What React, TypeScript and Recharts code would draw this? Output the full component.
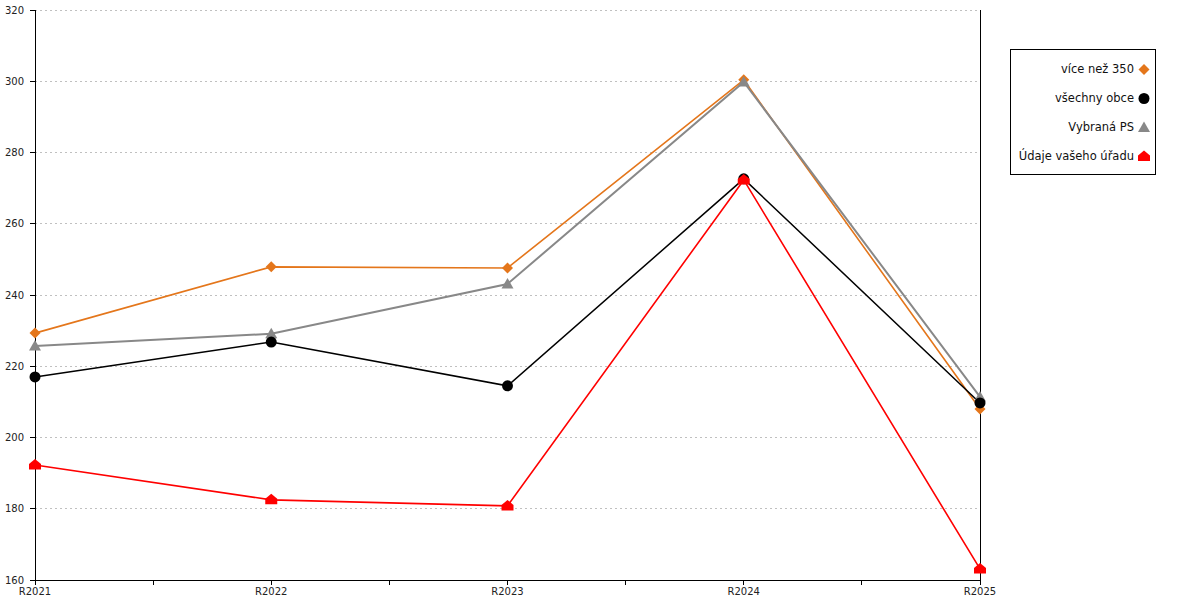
import React from 'react';
import { LineChart, Line, XAxis, YAxis, CartesianGrid, ReferenceLine } from 'recharts';

const categories = ['R2021', 'R2022', 'R2023', 'R2024', 'R2025'];
const viceNez350 = [229.3, 247.9, 247.6, 300.4, 208.0];
const vsechnyObce = [217.0, 226.8, 214.5, 272.6, 209.7];
const vybranaPS = [225.7, 229.1, 243.1, 299.8, 211.4];
const udajeUradu = [192.3, 182.5, 180.8, 272.3, 163.1];
const yTicks = [160, 180, 200, 220, 240, 260, 280, 300, 320];
const xTicks = [0, 0.5, 1, 1.5, 2, 2.5, 3, 3.5, 4];

type Shape = 'diamond' | 'circle' | 'triangle' | 'house';

const series: { key: string; name: string; color: string; shape: Shape; width: number }[] = [
  { key: 'vice', name: 'více než 350', color: '#E4761B', shape: 'diamond', width: 1.6 },
  { key: 'ps', name: 'Vybraná PS', color: '#888888', shape: 'triangle', width: 2 },
  { key: 'obce', name: 'všechny obce', color: '#000000', shape: 'circle', width: 1.5 },
  { key: 'urad', name: 'Údaje vašeho úřadu', color: '#FF0000', shape: 'house', width: 1.6 },
];
const legendOrder = ['vice', 'obce', 'ps', 'urad'];

const data = categories.map((c, i) => ({
  idx: i,
  cat: c,
  vice: viceNez350[i],
  obce: vsechnyObce[i],
  ps: vybranaPS[i],
  urad: udajeUradu[i],
}));

function markerPath(shape: Shape, cx: number, cy: number): string | null {
  switch (shape) {
    case 'diamond':
      return `M${cx},${cy - 5.5}L${cx + 5.5},${cy}L${cx},${cy + 5.5}L${cx - 5.5},${cy}Z`;
    case 'triangle':
      return `M${cx},${cy - 6}L${cx + 6},${cy + 4.5}L${cx - 6},${cy + 4.5}Z`;
    case 'house':
      return `M${cx},${cy - 6}L${cx + 6},${cy - 1}L${cx + 6},${cy + 4.5}L${cx - 6},${cy + 4.5}L${cx - 6},${cy - 1}Z`;
    default:
      return null;
  }
}

function Marker({ shape, cx, cy, color }: { shape: Shape; cx: number; cy: number; color: string }) {
  if (shape === 'circle') return <circle cx={cx} cy={cy} r={5.5} fill={color} stroke="none" />;
  return <path d={markerPath(shape, cx, cy) || ''} fill={color} stroke="none" />;
}

const font = '"DejaVu Sans", sans-serif';

export default function App() {
  return (
    <div style={{ position: 'absolute', left: 0, top: 0, width: 1200, height: 600, background: '#fff', fontFamily: font }}>
      <LineChart width={1200} height={600} data={data} margin={{ top: 10, right: 220, bottom: 0, left: 0 }}>
        <CartesianGrid vertical={false} stroke="#c0c0c0" strokeDasharray="2 3" shapeRendering="crispEdges" />
        <XAxis
          dataKey="idx"
          type="number"
          domain={[0, 4]}
          ticks={xTicks}
          interval={0}
          height={20}
          tickSize={5}
          tickMargin={3}
          stroke="#000"
          axisLine={{ stroke: '#000', shapeRendering: 'crispEdges' }}
          tickLine={{ stroke: '#000', shapeRendering: 'crispEdges' }}
          tick={{ fill: '#222', fontSize: 10, fontFamily: font }}
          tickFormatter={(v: number) => (Number.isInteger(v) ? categories[v] : '')}
        />
        <YAxis
          domain={[160, 320]}
          ticks={yTicks}
          interval={0}
          width={35}
          tickSize={5}
          tickMargin={6}
          axisLine={{ stroke: '#000', shapeRendering: 'crispEdges' }}
          tickLine={{ stroke: '#000', shapeRendering: 'crispEdges' }}
          tick={{ fill: '#222', fontSize: 10, fontFamily: font }}
        />
        <ReferenceLine x={4} stroke="#000" strokeWidth={1} shapeRendering="crispEdges" />
        {series.map((s) => (
          <Line
            key={s.key}
            dataKey={s.key}
            name={s.name}
            type="linear"
            stroke={s.color}
            strokeWidth={s.width}
            isAnimationActive={false}
            dot={(p: any) => <Marker key={`${s.key}-${p.index}`} shape={s.shape} cx={p.cx} cy={p.cy} color={s.color} />}
            activeDot={false}
          />
        ))}
      </LineChart>
      <div
        style={{
          position: 'absolute',
          left: 1010,
          top: 49,
          width: 144,
          height: 124,
          border: '1px solid #000',
          background: '#fff',
          boxSizing: 'content-box',
        }}
      >
        {legendOrder.map((k, i) => {
          const s = series.find((x) => x.key === k)!;
          return (
            <div
              key={k}
              style={{
                position: 'absolute',
                right: 4,
                top: 10 + i * 29,
                height: 18,
                display: 'flex',
                alignItems: 'center',
                whiteSpace: 'nowrap',
                fontSize: 11.5,
                color: '#111',
              }}
            >
              <span>{s.name}</span>
              <svg width={14} height={14} style={{ marginLeft: 3 }}>
                <Marker shape={s.shape} cx={7} cy={7.5} color={s.color} />
              </svg>
            </div>
          );
        })}
      </div>
    </div>
  );
}
